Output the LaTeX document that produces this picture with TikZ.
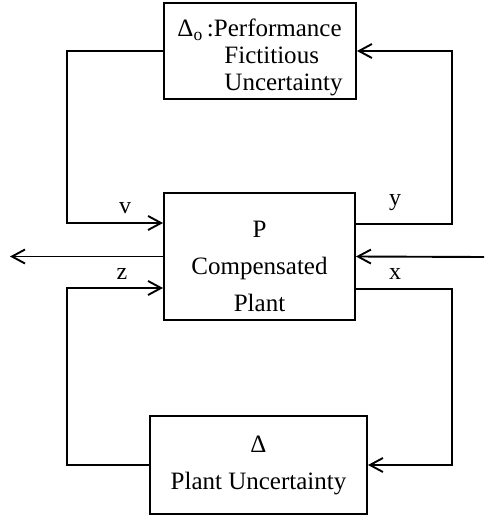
\documentclass[tikz,border=0pt]{standalone}
\usepackage{fontspec}
\setmainfont{Liberation Serif}
\usetikzlibrary{arrows.meta}

\begin{document}
\begin{tikzpicture}[x=1pt,y=-1pt,line width=1.9pt,
	>={Straight Barb[length=13pt,width=14pt,line width=1.9pt]},
	blk/.style={draw,inner sep=0pt,align=center,font=\fontsize{25}{37}\selectfont},
	lbl/.style={font=\fontsize{24}{26}\selectfont}]
\useasboundingbox (0,0) rectangle (484,516);
\node [blk,minimum width=192pt,minimum height=96pt,align=left,
	font=\fontsize{25}{27}\selectfont] (perf) at (260,51)
	{\rule{0pt}{31pt}Δ\textsubscript{o}\,:Performance\\\hspace{47pt}Fictitious\\\hspace{47pt}Uncertainty};
\node [blk,minimum width=191pt,minimum height=127pt] (plant) at (259.5,256.5)
	{\rule{0pt}{36pt}P\\Compensated\\Plant};
\node [blk,minimum width=217pt,minimum height=98pt] (unc) at (258.5,465)
	{Δ\\Plant Uncertainty};
\coordinate (in) at (484,257);
\coordinate (out) at (10,256.5);
\draw[->] (perf.west) -- (67,51) |- ([yshift=33.5pt]plant.west);
\draw[->] ([yshift=32.5pt]plant.east) -- (452,224) |- (perf.east);
\draw[->] (plant.west) -- (out);
\draw[->] (in) -- (plant.east);
\draw[->] (unc.west) -- (67,465) |- ([yshift=-31.5pt]plant.west);
\draw[->] ([yshift=-32.5pt]plant.east) -- (452,289) |- (unc.east);
\node [lbl] (v) at (125,208) {v};
\node [lbl] (y) at (395,203) {y};
\node [lbl] (z) at (122,274) {z};
\node [lbl] (x) at (395,274) {x};
\end{tikzpicture}
\end{document}
